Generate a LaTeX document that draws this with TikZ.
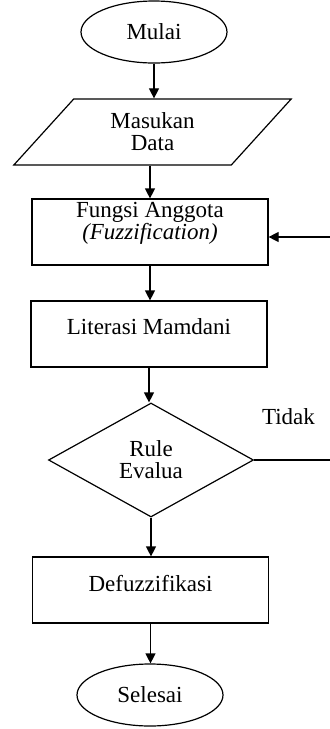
\documentclass[tikz,border=0pt]{standalone}
\usepackage{fontspec}
\setmainfont{Liberation Serif}
\usepackage{tikz}
\usetikzlibrary{shapes.geometric}
\usetikzlibrary{arrows.meta}
\tikzset{
  every node/.style={font=\fontsize{11.5}{11}\selectfont},
  line/.style={line width=0.6pt},
  arr/.style={line width=0.6pt, -{Triangle[length=5pt,width=5pt]}},
  terminal/.style={draw, line width=0.6pt, ellipse, minimum width=73pt, minimum height=31pt, inner sep=0pt},
  inputbox/.style={draw, line width=0.6pt, trapezium, trapezium left angle=50, trapezium right angle=130,
    trapezium stretches=true, minimum width=139.5pt, minimum height=33pt, align=center, inner sep=0pt},
  procbox/.style={draw, line width=0.6pt, rectangle, minimum width=118pt, minimum height=33pt, align=center, inner sep=0pt},
  decision/.style={draw, line width=0.6pt, diamond, aspect=1.8, minimum width=102.5pt, minimum height=57pt, align=center, inner sep=0pt}
}

\begin{document}
\begin{tikzpicture}
        \useasboundingbox (0,0) rectangle (165pt,-364.5pt);
        % start
        \node[terminal] (mulai) at (77pt,-16pt) {Mulai};
        % input
        \node[inputbox] (data) at (76.25pt,-66pt) {Masukan\\Data};
        % steps
        \node[procbox, text depth=11pt] (fungsi) at (75pt,-116pt) {Fungsi Anggota\\\textit{(Fuzzification)}};
        \node[procbox, text depth=7pt] (literasi) at (74.5pt,-167pt) {Literasi Mamdani};
        \node[decision] (rule) at (75.5pt,-230pt) {Rule\\Evalua};
        \node (tidak) at (144.25pt,-208.5pt) {Tidak};
        \node[procbox, text depth=7pt] (defuz) at (75.25pt,-295pt) {Defuzzifikasi};
        % end
        \node[terminal] (selesai) at (75pt,-347.5pt) {Selesai};
        % loop ends at the edge
        \coordinate (back) at (165pt,-118.5pt);
        \coordinate (loop) at (165pt,-230pt);
        % arrows
        \draw[arr] (mulai.south) -- (mulai.south |- data.north);
        \draw[arr] (fungsi.north |- data.south) -- (fungsi.north);
        \draw[arr] (fungsi.south) -- (fungsi.south |- literasi.north);
        \draw[arr] (literasi.south) -- (literasi.south |- rule.north);
        \draw[arr] (rule.south) -- (rule.south |- defuz.north);
        \draw[arr] (defuz.south) -- (defuz.south |- selesai.north);
        \draw[line] (rule.east) -- (loop);
        \draw[arr] (back) -- (back -| fungsi.east);
    \end{tikzpicture}
\end{document}
